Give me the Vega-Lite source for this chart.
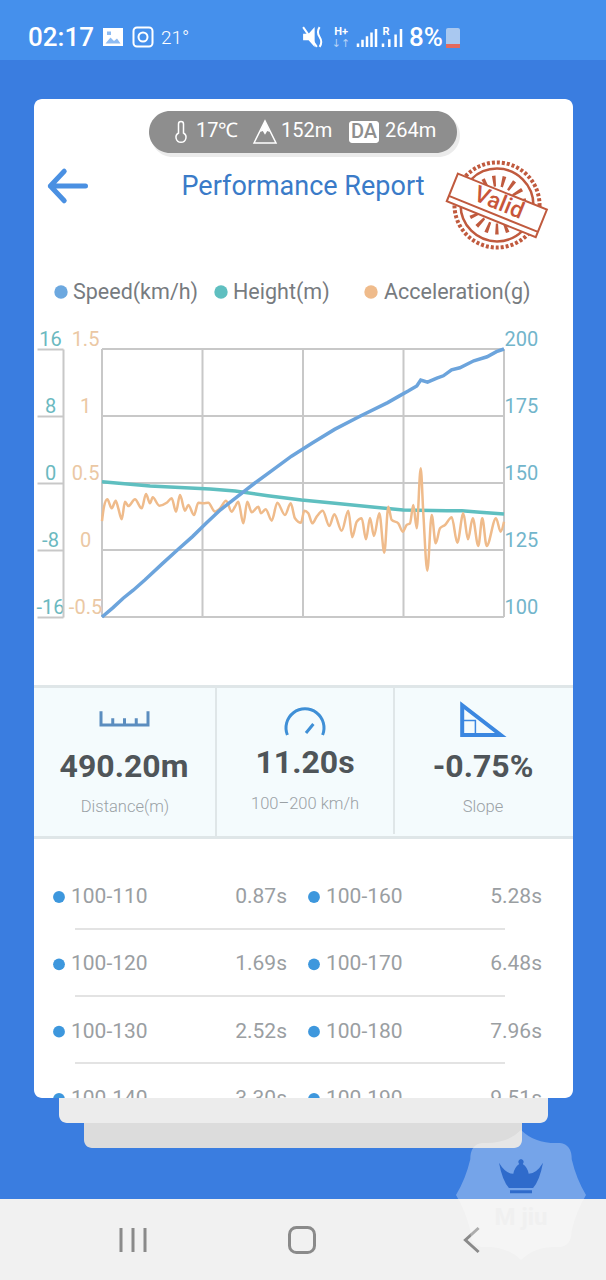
{
  "$schema": "https://vega.github.io/schema/vega-lite/v6.json",
  "width": 606,
  "height": 1280,
  "padding": 0,
  "autosize": {"type": "none"},
  "background": "#3A7DE0",
  "config": {"view": {"stroke": null}, "axis": {"disable": true}, "text": {"font": "Roboto"}},
  "resolve": {"scale": {"x": "independent", "y": "independent"}, "axis": {"x": "independent", "y": "independent"}},
  "layer": [
    {
      "data": {"values": [{"item": "shape"}]},
      "layer": [
        {"mark": {"type": "rect", "color": "#4590EC"}, "encoding": {"x": {"datum": 0, "scale": {"domain": [0, 606], "nice": false}}, "x2": {"datum": 606}, "y": {"datum": 0, "scale": {"domain": [1280, 0], "nice": false}}, "y2": {"datum": 60}}},
        {"data": {"values": [{"label": "02:17"}]}, "mark": {"type": "text", "fontSize": 26, "fontWeight": 500, "color": "#fff", "align": "left", "baseline": "middle"}, "encoding": {"x": {"datum": 28}, "y": {"datum": 38}, "text": {"field": "label"}}},
        {"mark": {"type": "point", "shape": "M-1 -0.9 H1 V0.9 H-1 Z", "size": 400, "filled": true, "color": "#fff", "opacity": 1, "strokeWidth": 0}, "encoding": {"x": {"datum": 113}, "y": {"datum": 37}}},
        {"mark": {"type": "point", "shape": "M-0.75 0.65 L-0.25 0.05 L0.1 0.4 L0.4 0.15 L0.75 0.65 Z M-0.6 -0.55 H-0.2 V-0.2 H-0.6 Z", "size": 400, "filled": true, "color": "#8DBBF2", "opacity": 1, "strokeWidth": 0}, "encoding": {"x": {"datum": 113}, "y": {"datum": 37}}},
        {"mark": {"type": "point", "shape": "M-0.6 -0.95 H0.6 A0.35 0.35 0 0 1 0.95 -0.6 V0.6 A0.35 0.35 0 0 1 0.6 0.95 H-0.6 A0.35 0.35 0 0 1 -0.95 0.6 V-0.6 A0.35 0.35 0 0 1 -0.6 -0.95 Z M0.45 0 A0.45 0.45 0 1 1 -0.45 0 A0.45 0.45 0 1 1 0.45 0 Z", "size": 400, "filled": false, "color": "#fff", "opacity": 1, "strokeWidth": 2}, "encoding": {"x": {"datum": 143}, "y": {"datum": 37}}},
        {"data": {"values": [{"label": "21°"}]}, "mark": {"type": "text", "fontSize": 19, "fontWeight": 300, "color": "#fff", "align": "left", "baseline": "middle"}, "encoding": {"x": {"datum": 161}, "y": {"datum": 38}, "text": {"field": "label"}}},
        {"mark": {"type": "point", "shape": "M-0.9 -0.3 L-0.4 -0.3 L0.15 -0.9 L0.15 0.9 L-0.4 0.3 L-0.9 0.3 Z", "size": 484, "filled": true, "color": "#fff", "opacity": 1, "strokeWidth": 0}, "encoding": {"x": {"datum": 313}, "y": {"datum": 37}}},
        {"mark": {"type": "point", "shape": "M-0.9 -0.9 L0.35 0.9 M0.6 -0.9 Q0.3 -0.45 0.6 0 Q0.9 0.45 0.6 0.9", "size": 484, "filled": false, "color": "#fff", "opacity": 1, "strokeWidth": 2}, "encoding": {"x": {"datum": 313}, "y": {"datum": 37}}},
        {"data": {"values": [{"label": "H+"}]}, "mark": {"type": "text", "fontSize": 11, "fontWeight": 700, "color": "#fff", "baseline": "middle"}, "encoding": {"x": {"datum": 341}, "y": {"datum": 32}, "text": {"field": "label"}}},
        {"data": {"values": [{"label": "↓↑"}]}, "mark": {"type": "text", "fontSize": 11, "font": "DejaVu Sans", "color": "#B5D2F6", "baseline": "middle"}, "encoding": {"x": {"datum": 341}, "y": {"datum": 44}, "text": {"field": "label"}}},
        {"mark": {"type": "point", "shape": "M-1 1 V0.6 M-0.5 1 V0.2 M0 1 V-0.2 M0.5 1 V-0.6 M1 1 V-1", "size": 324, "filled": false, "color": "#fff", "opacity": 1, "strokeWidth": 2.5}, "encoding": {"x": {"datum": 367}, "y": {"datum": 38}}},
        {"mark": {"type": "point", "shape": "M-1 1 V0.6 M-0.3 1 V0.15 M0.4 1 V-0.4 M1 1 V-1", "size": 324, "filled": false, "color": "#fff", "opacity": 1, "strokeWidth": 2.5}, "encoding": {"x": {"datum": 392}, "y": {"datum": 38}}},
        {"data": {"values": [{"label": "R"}]}, "mark": {"type": "text", "fontSize": 11, "fontWeight": 700, "color": "#fff", "baseline": "middle"}, "encoding": {"x": {"datum": 386}, "y": {"datum": 32}, "text": {"field": "label"}}},
        {"data": {"values": [{"label": "8%"}]}, "mark": {"type": "text", "fontSize": 26, "fontWeight": 500, "color": "#fff", "align": "left", "baseline": "middle"}, "encoding": {"x": {"datum": 409}, "y": {"datum": 38}, "text": {"field": "label"}}},
        {"mark": {"type": "rect", "color": "#A9C8F0", "cornerRadius": 2}, "encoding": {"x": {"datum": 446}, "x2": {"datum": 460}, "y": {"datum": 28}, "y2": {"datum": 48}}},
        {"mark": {"type": "rect", "color": "#E46A5E"}, "encoding": {"x": {"datum": 446}, "x2": {"datum": 460}, "y": {"datum": 44}, "y2": {"datum": 48}}},

        {"mark": {"type": "rect", "color": "#fff", "cornerRadius": 8}, "encoding": {"x": {"datum": 34}, "x2": {"datum": 573}, "y": {"datum": 99}, "y2": {"datum": 1098}}},
        {"mark": {"type": "rect", "color": "#DDDDDD", "cornerRadius": 22, "opacity": 0.6}, "encoding": {"x": {"datum": 151}, "x2": {"datum": 460}, "y": {"datum": 114}, "y2": {"datum": 157}}},
        {"mark": {"type": "rect", "color": "#8E8E8E", "cornerRadius": 21}, "encoding": {"x": {"datum": 149}, "x2": {"datum": 457}, "y": {"datum": 111}, "y2": {"datum": 153}}},
        {"mark": {"type": "point", "shape": "M-0.25 0.2 V-0.7 A0.25 0.25 0 0 1 0.25 -0.7 V0.2 A0.5 0.5 0 1 1 -0.25 0.2 Z", "size": 400, "filled": false, "color": "#fff", "opacity": 1, "strokeWidth": 1.5}, "encoding": {"x": {"datum": 181}, "y": {"datum": 131}}},
        {"data": {"values": [{"label": "17℃"}]}, "mark": {"type": "text", "fontSize": 20, "color": "#fff", "align": "left", "baseline": "middle"}, "encoding": {"x": {"datum": 196}, "y": {"datum": 131}, "text": {"field": "label"}}},
        {"mark": {"type": "point", "shape": "M-1 1 L0 -1 L1 1 Z", "size": 484, "filled": false, "color": "#fff", "opacity": 1, "strokeWidth": 1.5}, "encoding": {"x": {"datum": 265}, "y": {"datum": 132}}},
        {"mark": {"type": "point", "shape": "M-0.45 0 L0 -1 L0.45 0 L0.2 -0.1 L0 0.25 L-0.2 -0.1 Z", "size": 484, "filled": true, "color": "#fff", "opacity": 1, "strokeWidth": 0}, "encoding": {"x": {"datum": 265}, "y": {"datum": 132}}},
        {"data": {"values": [{"label": "152m"}]}, "mark": {"type": "text", "fontSize": 20, "color": "#fff", "align": "left", "baseline": "middle"}, "encoding": {"x": {"datum": 281}, "y": {"datum": 131}, "text": {"field": "label"}}},
        {"mark": {"type": "rect", "color": "#fff", "cornerRadius": 3}, "encoding": {"x": {"datum": 349}, "x2": {"datum": 379}, "y": {"datum": 121}, "y2": {"datum": 143}}},
        {"data": {"values": [{"label": "DA"}]}, "mark": {"type": "text", "fontSize": 20, "fontWeight": 500, "color": "#8E8E8E", "baseline": "middle"}, "encoding": {"x": {"datum": 364}, "y": {"datum": 132}, "text": {"field": "label"}}},
        {"data": {"values": [{"label": "264m"}]}, "mark": {"type": "text", "fontSize": 20, "color": "#fff", "align": "left", "baseline": "middle"}, "encoding": {"x": {"datum": 385}, "y": {"datum": 131}, "text": {"field": "label"}}},

        {"mark": {"type": "point", "shape": "M1 0 L-0.9 0 M-0.15 -0.8 L-0.9 0 L-0.15 0.8", "size": 1369, "filled": false, "color": "#4A90E2", "opacity": 1, "strokeWidth": 5, "strokeCap": "round", "strokeJoin": "round"}, "encoding": {"x": {"datum": 67}, "y": {"datum": 186}}},
        {"data": {"values": [{"label": "Performance Report"}]}, "mark": {"type": "text", "fontSize": 27, "color": "#3A7BC8", "baseline": "middle"}, "encoding": {"x": {"datum": 303}, "y": {"datum": 187}, "text": {"field": "label"}}},

        {"mark": {"type": "point", "shape": "circle", "size": 7238, "filled": false, "color": "#C05A3E", "opacity": 1, "strokeWidth": 4, "strokeDash": [3, 2]}, "encoding": {"x": {"datum": 497}, "y": {"datum": 205}}},
        {"mark": {"type": "point", "shape": "circle", "size": 5300, "filled": false, "color": "#C05A3E", "opacity": 1, "strokeWidth": 2.5}, "encoding": {"x": {"datum": 497}, "y": {"datum": 205}}},
        {"mark": {"type": "point", "shape": "circle", "size": 2300, "filled": false, "color": "#C05A3E", "opacity": 1, "strokeWidth": 11, "strokeDash": [3, 6]}, "encoding": {"x": {"datum": 497}, "y": {"datum": 205}}},
        {"mark": {"type": "point", "shape": "M-1 -0.3 L1 -0.3 L1 0.32 L-1 0.32 Z M-1 0.2 L1 0.2", "size": 9216, "angle": 22, "filled": true, "fill": "#fff", "stroke": "#C05A3E", "opacity": 1, "strokeWidth": 2}, "encoding": {"x": {"datum": 497}, "y": {"datum": 205}}},
        {"data": {"values": [{"label": "Valid"}]}, "mark": {"type": "text", "fontSize": 23, "fontWeight": 500, "angle": 22, "color": "#C8563A", "baseline": "middle"}, "encoding": {"x": {"datum": 499}, "y": {"datum": 203}, "text": {"field": "label"}}},

        {"mark": {"type": "point", "shape": "circle", "size": 180, "filled": true, "color": "#6CA8DF", "opacity": 1, "strokeWidth": 0}, "encoding": {"x": {"datum": 61}, "y": {"datum": 292}}},
        {"data": {"values": [{"label": "Speed(km/h)"}]}, "mark": {"type": "text", "fontSize": 21.5, "color": "#777B80", "align": "left", "baseline": "middle"}, "encoding": {"x": {"datum": 73}, "y": {"datum": 293}, "text": {"field": "label"}}},
        {"mark": {"type": "point", "shape": "circle", "size": 180, "filled": true, "color": "#5FBFC0", "opacity": 1, "strokeWidth": 0}, "encoding": {"x": {"datum": 221}, "y": {"datum": 292}}},
        {"data": {"values": [{"label": "Height(m)"}]}, "mark": {"type": "text", "fontSize": 21.5, "color": "#777B80", "align": "left", "baseline": "middle"}, "encoding": {"x": {"datum": 233}, "y": {"datum": 293}, "text": {"field": "label"}}},
        {"mark": {"type": "point", "shape": "circle", "size": 180, "filled": true, "color": "#EFBB8B", "opacity": 1, "strokeWidth": 0}, "encoding": {"x": {"datum": 371}, "y": {"datum": 292}}},
        {"data": {"values": [{"label": "Acceleration(g)"}]}, "mark": {"type": "text", "fontSize": 21.5, "color": "#777B80", "align": "left", "baseline": "middle"}, "encoding": {"x": {"datum": 384}, "y": {"datum": 293}, "text": {"field": "label"}}},

        {"mark": {"type": "rect", "color": "#F4FBFD"}, "encoding": {"x": {"datum": 34}, "x2": {"datum": 573}, "y": {"datum": 686}, "y2": {"datum": 838}}},
        {"mark": {"type": "rect", "color": "#DFE6E8"}, "encoding": {"x": {"datum": 34}, "x2": {"datum": 573}, "y": {"datum": 685}, "y2": {"datum": 688}}},
        {"mark": {"type": "rect", "color": "#DFE6E8"}, "encoding": {"x": {"datum": 34}, "x2": {"datum": 573}, "y": {"datum": 836}, "y2": {"datum": 839}}},
        {"mark": {"type": "rect", "color": "#DFE6E8"}, "encoding": {"x": {"datum": 215}, "x2": {"datum": 217}, "y": {"datum": 688}, "y2": {"datum": 836}}},
        {"mark": {"type": "rect", "color": "#DFE6E8"}, "encoding": {"x": {"datum": 393}, "x2": {"datum": 395}, "y": {"datum": 688}, "y2": {"datum": 834}}},
        {"mark": {"type": "point", "shape": "M-1 -0.2 V0.38 H1 V-0.2 M-0.5 0.38 V0.1 M0 0.38 V0.1 M0.5 0.38 V0.1", "size": 2209, "filled": false, "color": "#5B8DBF", "opacity": 1, "strokeWidth": 3}, "encoding": {"x": {"datum": 124.5}, "y": {"datum": 716}}},
        {"mark": {"type": "point", "shape": "M-0.88 0.65 A0.95 0.95 0 1 1 0.88 0.65 M0.05 0.55 L0.42 0.1", "size": 1600, "filled": false, "color": "#3F8FD6", "opacity": 1, "strokeWidth": 3}, "encoding": {"x": {"datum": 305}, "y": {"datum": 722}}},
        {"mark": {"type": "point", "shape": "M-0.9 -0.65 L-0.9 0.7 L0.85 0.7 Z", "size": 1936, "filled": false, "color": "#3B87E0", "opacity": 1, "strokeWidth": 4}, "encoding": {"x": {"datum": 482}, "y": {"datum": 719.5}}},
        {"mark": {"type": "point", "shape": "M-0.9 0.05 H-0.3 V0.7", "size": 1936, "filled": false, "color": "#3B87E0", "opacity": 1, "strokeWidth": 1.5}, "encoding": {"x": {"datum": 482}, "y": {"datum": 719.5}}},
        {"data": {"values": [{"label": "490.20m"}]}, "mark": {"type": "text", "fontSize": 32, "fontWeight": 700, "color": "#4F5559", "baseline": "middle"}, "encoding": {"x": {"datum": 124}, "y": {"datum": 767}, "text": {"field": "label"}}},
        {"data": {"values": [{"label": "11.20s"}]}, "mark": {"type": "text", "fontSize": 32, "fontWeight": 700, "color": "#4F5559", "baseline": "middle"}, "encoding": {"x": {"datum": 305}, "y": {"datum": 763}, "text": {"field": "label"}}},
        {"data": {"values": [{"label": "-0.75%"}]}, "mark": {"type": "text", "fontSize": 32, "fontWeight": 700, "color": "#4F5559", "baseline": "middle"}, "encoding": {"x": {"datum": 483}, "y": {"datum": 767}, "text": {"field": "label"}}},
        {"data": {"values": [{"label": "Distance(m)"}]}, "mark": {"type": "text", "fontSize": 16.5, "fontWeight": 300, "color": "#9AA1A5", "baseline": "middle"}, "encoding": {"x": {"datum": 125}, "y": {"datum": 807}, "text": {"field": "label"}}},
        {"data": {"values": [{"label": "100–200 km/h"}]}, "mark": {"type": "text", "fontSize": 16.5, "fontWeight": 300, "color": "#9AA1A5", "baseline": "middle"}, "encoding": {"x": {"datum": 305}, "y": {"datum": 804}, "text": {"field": "label"}}},
        {"data": {"values": [{"label": "Slope"}]}, "mark": {"type": "text", "fontSize": 16.5, "fontWeight": 300, "color": "#9AA1A5", "baseline": "middle"}, "encoding": {"x": {"datum": 483}, "y": {"datum": 807}, "text": {"field": "label"}}},

        {"mark": {"type": "rect", "color": "#C8C8C8"}, "encoding": {"x": {"datum": 75}, "x2": {"datum": 505}, "y": {"datum": 928.5}, "y2": {"datum": 929.5}}},
        {"mark": {"type": "rect", "color": "#C8C8C8"}, "encoding": {"x": {"datum": 75}, "x2": {"datum": 505}, "y": {"datum": 995.5}, "y2": {"datum": 996.5}}},
        {"mark": {"type": "rect", "color": "#C8C8C8"}, "encoding": {"x": {"datum": 75}, "x2": {"datum": 505}, "y": {"datum": 1062.5}, "y2": {"datum": 1063.5}}}
      ]
    },
    {
      "data": {
        "values": [
          {"band": "100-110", "time": "0.87s", "side": "left", "rank": 1},
          {"band": "100-120", "time": "1.69s", "side": "left", "rank": 2},
          {"band": "100-130", "time": "2.52s", "side": "left", "rank": 3},
          {"band": "100-140", "time": "3.30s", "side": "left", "rank": 4},
          {"band": "100-160", "time": "5.28s", "side": "right", "rank": 1},
          {"band": "100-170", "time": "6.48s", "side": "right", "rank": 2},
          {"band": "100-180", "time": "7.96s", "side": "right", "rank": 3},
          {"band": "100-190", "time": "9.51s", "side": "right", "rank": 4}
        ]
      },
      "encoding": {
        "x": {"field": "side", "type": "ordinal", "scale": {"type": "point", "domain": ["left", "right"], "range": [59, 314], "padding": 0}},
        "y": {"field": "rank", "type": "ordinal", "scale": {"type": "point", "domain": [1, 2, 3, 4], "range": [897, 1099], "padding": 0}}
      },
      "layer": [
        {"mark": {"type": "point", "shape": "circle", "size": 140, "filled": true, "color": "#3D97DD", "opacity": 1, "strokeWidth": 0}},
        {"mark": {"type": "text", "fontSize": 21, "color": "#9A9EA2", "align": "left", "baseline": "middle", "dx": 12}, "encoding": {"text": {"field": "band"}}},
        {"mark": {"type": "text", "fontSize": 21, "color": "#9A9EA2", "align": "right", "baseline": "middle", "dx": 228}, "encoding": {"text": {"field": "time"}}}
      ]
    },
    {
      "data": {"values": [{"item": "shape"}]},
      "layer": [
        {"mark": {"type": "rect", "color": "#3A7DE0"}, "encoding": {"x": {"datum": 34, "scale": {"domain": [0, 606], "nice": false}}, "x2": {"datum": 59}, "y": {"datum": 1098, "scale": {"domain": [1280, 0], "nice": false}}, "y2": {"datum": 1110}}},
        {"mark": {"type": "rect", "color": "#ECECEC", "cornerRadiusBottomLeft": 8, "cornerRadiusBottomRight": 8}, "encoding": {"x": {"datum": 59}, "x2": {"datum": 548}, "y": {"datum": 1098}, "y2": {"datum": 1123}}},
        {"mark": {"type": "rect", "color": "#DCDCDC", "cornerRadiusBottomLeft": 8, "cornerRadiusBottomRight": 8}, "encoding": {"x": {"datum": 84}, "x2": {"datum": 522}, "y": {"datum": 1123}, "y2": {"datum": 1148}}},
        {"mark": {"type": "rect", "color": "#F1F1F1"}, "encoding": {"x": {"datum": 0}, "x2": {"datum": 606}, "y": {"datum": 1199}, "y2": {"datum": 1280}}},
        {"mark": {"type": "point", "shape": "M-1 -1 V1 M0 -1 V1 M1 -1 V1", "size": 576, "filled": false, "color": "#8A8A8A", "opacity": 1, "strokeWidth": 3}, "encoding": {"x": {"datum": 133}, "y": {"datum": 1240}}},
        {"mark": {"type": "point", "shape": "M-0.45 -1 H0.45 A0.55 0.55 0 0 1 1 -0.45 V0.45 A0.55 0.55 0 0 1 0.45 1 H-0.45 A0.55 0.55 0 0 1 -1 0.45 V-0.45 A0.55 0.55 0 0 1 -0.45 -1 Z", "size": 625, "filled": false, "color": "#8A8A8A", "opacity": 1, "strokeWidth": 3}, "encoding": {"x": {"datum": 302}, "y": {"datum": 1240}}},
        {"mark": {"type": "point", "shape": "M0.55 -1 L-0.55 0 L0.55 1", "size": 576, "filled": false, "color": "#8A8A8A", "opacity": 1, "strokeWidth": 3}, "encoding": {"x": {"datum": 472}, "y": {"datum": 1240}}},
        {"mark": {"type": "point", "shape": "M0 -1 Q0.22 -0.78 0.6 -0.8 Q0.78 -0.78 0.78 -0.55 Q0.85 -0.25 1 0 Q0.85 0.25 0.78 0.55 Q0.78 0.78 0.6 0.8 Q0.22 0.78 0 1 Q-0.22 0.78 -0.6 0.8 Q-0.78 0.78 -0.78 0.55 Q-0.85 0.25 -1 0 Q-0.85 -0.25 -0.78 -0.55 Q-0.78 -0.78 -0.6 -0.8 Q-0.22 -0.78 0 -1 Z", "size": 16900, "filled": true, "color": "#fff", "opacity": 0.3, "strokeWidth": 0}, "encoding": {"x": {"datum": 521}, "y": {"datum": 1195}}},
        {"mark": {"type": "point", "shape": "M-1 -0.6 Q-0.7 -0.1 -0.35 -0.1 Q-0.3 -0.4 -0.08 -0.55 A0.12 0.12 0 1 1 0.08 -0.55 Q0.3 -0.4 0.35 -0.1 Q0.7 -0.1 1 -0.6 Q0.85 0.2 0.55 0.55 H-0.55 Q-0.85 0.2 -1 -0.6 Z M-0.5 0.65 H0.5 V0.78 H-0.5 Z", "size": 1936, "filled": true, "color": "#2F6BCB", "opacity": 1, "strokeWidth": 0}, "encoding": {"x": {"datum": 521}, "y": {"datum": 1176}}},
        {"data": {"values": [{"label": "M jiu"}]}, "mark": {"type": "text", "fontSize": 24, "fontWeight": 700, "color": "#F0F0F0", "baseline": "middle"}, "encoding": {"x": {"datum": 521}, "y": {"datum": 1218}, "text": {"field": "label"}}}
      ]
    },
    {
      "layer": [
        {
          "data": {"values": [{"t": 0}, {"t": 2.8}, {"t": 5.6}, {"t": 8.4}, {"t": 11.2}]},
          "mark": {"type": "rule", "color": "#C8C8C8", "strokeWidth": 2},
          "encoding": {
            "x": {"field": "t", "type": "quantitative", "scale": {"domain": [0, 11.2], "range": [102, 504], "nice": false, "zero": false}},
            "y": {"datum": 100, "scale": {"domain": [100, 200], "range": [617, 349], "nice": false, "zero": false}},
            "y2": {"datum": 200}
          }
        },
        {
          "data": {"values": [{"kmh": 100}, {"kmh": 125}, {"kmh": 150}, {"kmh": 175}, {"kmh": 200}]},
          "mark": {"type": "rule", "color": "#C8C8C8", "strokeWidth": 2},
          "encoding": {
            "x": {"datum": 0},
            "x2": {"datum": 11.2},
            "y": {"field": "kmh", "type": "quantitative"}
          }
        }
      ]
    },
    {
      "data": {
        "values": [
          {"t": 0, "m": 0.15}, {"t": 1.34, "m": -0.35}, {"t": 3.01, "m": -0.72}, {"t": 3.71, "m": -0.95},
          {"t": 4.62, "m": -1.52}, {"t": 5.56, "m": -2.03}, {"t": 6.49, "m": -2.42}, {"t": 7.6, "m": -2.9},
          {"t": 8.39, "m": -3.22}, {"t": 9.61, "m": -3.31}, {"t": 10.03, "m": -3.31}, {"t": 10.53, "m": -3.5},
          {"t": 11.2, "m": -3.7}
        ]
      },
      "mark": {"type": "line", "color": "#5FBFC0", "strokeWidth": 3.5},
      "encoding": {
        "x": {"field": "t", "type": "quantitative", "scale": {"domain": [0, 11.2], "range": [102, 504], "nice": false, "zero": false}},
        "y": {
          "field": "m",
          "type": "quantitative",
          "scale": {"domain": [-16, 16], "range": [617, 349], "nice": false, "zero": false},
          "axis": {
            "disable": false,
            "zindex": 1,
            "orient": "left",
            "offset": -63,
            "title": null,
            "grid": false,
            "values": [-16, -8, 0, 8, 16],
            "labelExpr": "toString(datum.value)",
            "domainColor": "#C8C8C8",
            "domainWidth": 2,
            "tickColor": "#C8C8C8",
            "tickWidth": 2,
            "tickSize": 26,
            "labelPadding": -13,
            "labelAlign": "center",
            "labelBaseline": "bottom",
            "labelFont": "Roboto",
            "labelFontSize": 20,
            "labelColor": "#6BB9C0",
            "labelOverlap": false,
            "labelBound": false,
            "labelFlush": false
          }
        }
      }
    },
    {
      "data": {
        "values": [
          {"t": 0, "g": 0.216}, {"t": 0.056, "g": 0.323}, {"t": 0.148, "g": 0.378}, {"t": 0.27, "g": 0.311},
          {"t": 0.382, "g": 0.368}, {"t": 0.454, "g": 0.311}, {"t": 0.549, "g": 0.229}, {"t": 0.641, "g": 0.36},
          {"t": 0.733, "g": 0.328}, {"t": 0.919, "g": 0.378}, {"t": 1.106, "g": 0.311}, {"t": 1.226, "g": 0.418},
          {"t": 1.337, "g": 0.349}, {"t": 1.412, "g": 0.393}, {"t": 1.596, "g": 0.331}, {"t": 1.802, "g": 0.353},
          {"t": 1.942, "g": 0.386}, {"t": 2.062, "g": 0.286}, {"t": 2.173, "g": 0.41}, {"t": 2.312, "g": 0.293},
          {"t": 2.404, "g": 0.336}, {"t": 2.563, "g": 0.261}, {"t": 2.683, "g": 0.353}, {"t": 2.822, "g": 0.349},
          {"t": 2.961, "g": 0.353}, {"t": 3.148, "g": 0.286}, {"t": 3.287, "g": 0.311}, {"t": 3.455, "g": 0.368},
          {"t": 3.613, "g": 0.286}, {"t": 3.705, "g": 0.323}, {"t": 3.797, "g": 0.36}, {"t": 3.937, "g": 0.199},
          {"t": 4.048, "g": 0.36}, {"t": 4.171, "g": 0.281}, {"t": 4.355, "g": 0.323}, {"t": 4.43, "g": 0.274},
          {"t": 4.561, "g": 0.304}, {"t": 4.728, "g": 0.219}, {"t": 4.884, "g": 0.353}, {"t": 5.098, "g": 0.261},
          {"t": 5.257, "g": 0.349}, {"t": 5.377, "g": 0.237}, {"t": 5.544, "g": 0.204}, {"t": 5.636, "g": 0.293},
          {"t": 5.748, "g": 0.274}, {"t": 5.859, "g": 0.199}, {"t": 5.982, "g": 0.249}, {"t": 6.149, "g": 0.293},
          {"t": 6.333, "g": 0.179}, {"t": 6.472, "g": 0.266}, {"t": 6.678, "g": 0.144}, {"t": 6.862, "g": 0.293},
          {"t": 6.973, "g": 0.095}, {"t": 7.096, "g": 0.211}, {"t": 7.235, "g": 0.237}, {"t": 7.355, "g": 0.08},
          {"t": 7.467, "g": 0.239}, {"t": 7.578, "g": 0.105}, {"t": 7.726, "g": 0.274}, {"t": 7.865, "g": -0.02},
          {"t": 7.977, "g": 0.323}, {"t": 8.071, "g": 0.224}, {"t": 8.255, "g": 0.199}, {"t": 8.378, "g": 0.137},
          {"t": 8.489, "g": 0.187}, {"t": 8.581, "g": 0.199}, {"t": 8.673, "g": 0.336}, {"t": 8.768, "g": 0.162},
          {"t": 8.879, "g": 0.61}, {"t": 8.952, "g": 0.274}, {"t": 9.063, "g": -0.154}, {"t": 9.186, "g": 0.261},
          {"t": 9.297, "g": 0.05}, {"t": 9.417, "g": 0.162}, {"t": 9.556, "g": 0.187}, {"t": 9.743, "g": 0.244},
          {"t": 9.899, "g": 0.055}, {"t": 10.066, "g": 0.274}, {"t": 10.197, "g": 0.08}, {"t": 10.328, "g": 0.237},
          {"t": 10.484, "g": 0.03}, {"t": 10.595, "g": 0.237}, {"t": 10.717, "g": 0.03}, {"t": 10.977, "g": 0.237},
          {"t": 11.108, "g": 0.137}, {"t": 11.2, "g": 0.211}
        ]
      },
      "mark": {"type": "line", "color": "#EFBB8B", "strokeWidth": 2.5, "interpolate": "monotone"},
      "encoding": {
        "x": {"field": "t", "type": "quantitative", "scale": {"domain": [0, 11.2], "range": [102, 504], "nice": false, "zero": false}},
        "y": {
          "field": "g",
          "type": "quantitative",
          "scale": {"domain": [-0.5, 1.5], "range": [617, 349], "nice": false, "zero": false},
          "axis": {
            "disable": false,
            "zindex": 1,
            "orient": "left",
            "offset": -102,
            "title": null,
            "grid": false,
            "values": [-0.5, 0, 0.5, 1, 1.5],
            "labelExpr": "toString(datum.value)",
            "domain": false,
            "ticks": false,
            "labelPadding": 17,
            "labelAlign": "center",
            "labelBaseline": "bottom",
            "labelFont": "Roboto",
            "labelFontSize": 20,
            "labelColor": "#EBC8A4",
            "labelOverlap": false,
            "labelBound": false,
            "labelFlush": false
          }
        }
      }
    },
    {
      "data": {
        "values": [
          {"t": 0, "kmh": 100}, {"t": 0.3, "kmh": 103.4}, {"t": 0.59, "kmh": 107}, {"t": 0.87, "kmh": 110},
          {"t": 1.2, "kmh": 113.9}, {"t": 1.69, "kmh": 120}, {"t": 2.1, "kmh": 125}, {"t": 2.52, "kmh": 130},
          {"t": 2.9, "kmh": 135}, {"t": 3.3, "kmh": 140}, {"t": 3.78, "kmh": 145}, {"t": 4.26, "kmh": 150},
          {"t": 4.77, "kmh": 155}, {"t": 5.28, "kmh": 160}, {"t": 5.87, "kmh": 165}, {"t": 6.48, "kmh": 170},
          {"t": 7.2, "kmh": 175}, {"t": 7.96, "kmh": 180}, {"t": 8.3, "kmh": 182.6}, {"t": 8.53, "kmh": 184.3},
          {"t": 8.77, "kmh": 186.2}, {"t": 8.88, "kmh": 188.4}, {"t": 9.07, "kmh": 187.6}, {"t": 9.33, "kmh": 189.1},
          {"t": 9.51, "kmh": 190}, {"t": 9.74, "kmh": 192.2}, {"t": 9.97, "kmh": 193}, {"t": 10.36, "kmh": 195.6},
          {"t": 10.73, "kmh": 197.1}, {"t": 10.99, "kmh": 199}, {"t": 11.2, "kmh": 200}
        ]
      },
      "mark": {"type": "line", "color": "#6CA4DC", "strokeWidth": 3.5},
      "encoding": {
        "x": {"field": "t", "type": "quantitative", "scale": {"domain": [0, 11.2], "range": [102, 504], "nice": false, "zero": false}},
        "y": {
          "field": "kmh",
          "type": "quantitative",
          "scale": {"domain": [100, 200], "range": [617, 349], "nice": false, "zero": false},
          "axis": {
            "disable": false,
            "zindex": 1,
            "orient": "right",
            "offset": -102,
            "title": null,
            "grid": false,
            "values": [100, 125, 150, 175, 200],
            "domain": false,
            "ticks": false,
            "labelPadding": 0,
            "labelAlign": "left",
            "labelBaseline": "bottom",
            "labelFont": "Roboto",
            "labelFontSize": 20,
            "labelColor": "#72B5CB",
            "labelOverlap": false,
            "labelBound": false,
            "labelFlush": false
          }
        }
      }
    }
  ]
}
